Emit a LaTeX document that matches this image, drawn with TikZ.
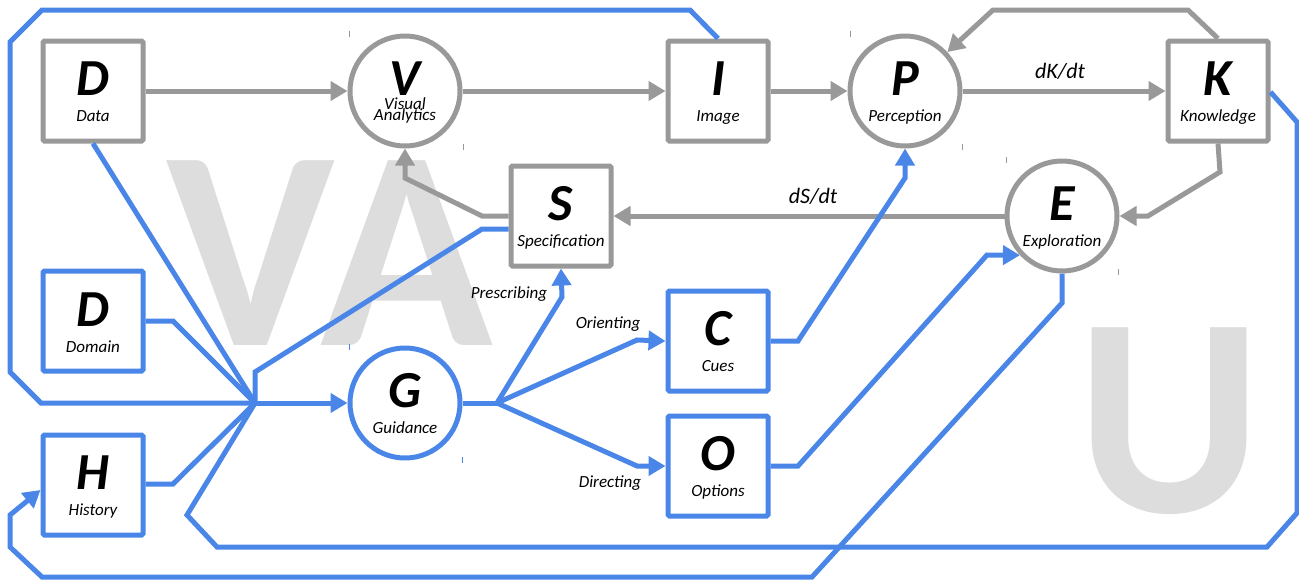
\documentclass[tikz,border=0pt]{standalone}
\usepackage{fontspec}
\setmainfont{Carlito}
\usetikzlibrary{arrows.meta,calc}
\definecolor{gr}{RGB}{153,153,153}
\definecolor{bl}{RGB}{74,134,232}
\definecolor{wm}{RGB}{221,221,221}
\tikzset{
  gbox/.style={draw=gr,line width=5pt,minimum size=100pt,rounded corners=1.5pt,fill=white,inner sep=0pt},
  bbox/.style={gbox,draw=bl},
  gcirc/.style={draw=gr,line width=5pt,circle,minimum size=110pt,fill=white,inner sep=0pt},
  bcirc/.style={gcirc,draw=bl},
  bigtxt/.style={font=\fontsize{52}{52}\selectfont\bfseries\itshape,anchor=base,inner sep=0pt},
  captxt/.style={font=\fontsize{17}{17}\selectfont\itshape,anchor=base,inner sep=0pt},
  ratetxt/.style={font=\fontsize{22}{22}\selectfont\itshape,anchor=base,inner sep=0pt},
  gline/.style={draw=gr,line width=5pt},
  bline/.style={draw=bl,line width=5pt},
  garrow/.style={gline,-{Triangle[length=17pt,width=19pt]}},
  barrow/.style={bline,-{Triangle[length=17pt,width=19pt]}},
  wmark/.style={font=\fontsize{285}{285}\selectfont\bfseries,text=wm,anchor=base,inner sep=0pt},
  tickmk/.style={line width=1pt}
}
\begin{document}
\begin{tikzpicture}[x=1pt,y=-1pt]
\useasboundingbox (0,0) rectangle (1299,579);
\fill[white] (0,0) rectangle (1299,579);
% watermark letters
\node[wmark] (wVA) at (330,345) {VA};
\node[wmark] (wU) at (1170,512) {U};
% nodes
\node[gbox] (D) at (93,91) {};
\node[gcirc] (V) at (405,91) {};
\node[gbox] (I) at (718,91) {};
\node[gcirc] (P) at (905,91) {};
\node[gbox] (K) at (1218,91) {};
\node[gbox] (S) at (561,216) {};
\node[gcirc] (E) at (1062,216) {};
\node[bbox] (Dm) at (93,321) {};
\node[bbox] (H) at (93,485) {};
\node[bcirc] (G) at (405,403) {};
\node[bbox] (C) at (718,341) {};
\node[bbox] (O) at (718,466) {};
% node texts
\node[bigtxt] (Dt) at (93,95) {D};   \node[captxt] (Dc) at (93,121) {Data};
\node[bigtxt] (Vt) at (405,95) {V};  \node[captxt] (Vc1) at (405,109) {Visual};
\node[captxt] (Vc2) at (405,120) {Analytics};
\node[bigtxt] (It) at (718,95) {I};  \node[captxt] (Ic) at (718,121) {Image};
\node[bigtxt] (Pt) at (905,95) {P};  \node[captxt] (Pc) at (905,121) {Perception};
\node[bigtxt] (Kt) at (1218,95) {K}; \node[captxt] (Kc) at (1218,121) {Knowledge};
\node[bigtxt] (St) at (561,220) {S}; \node[captxt] (Sc) at (561,246) {Specification};
\node[bigtxt] (Et) at (1062,220) {E}; \node[captxt] (Ec) at (1062,246) {Exploration};
\node[bigtxt] (Dmt) at (93,326) {D}; \node[captxt] (Dmc) at (93,352) {Domain};
\node[bigtxt] (Ht) at (93,489) {H};  \node[captxt] (Hc) at (93,515) {History};
\node[bigtxt] (Gt) at (405,407) {G}; \node[captxt] (Gc) at (405,433) {Guidance};
\node[bigtxt] (Ct) at (718,345) {C}; \node[captxt] (Cc) at (718,371) {Cues};
\node[bigtxt] (Ot) at (718,470) {O}; \node[captxt] (Oc) at (718,496) {Options};
% labels
\node[ratetxt] (dK) at (1060,78) {dK/dt};
\node[ratetxt] (dS) at (813,203) {dS/dt};
\node[captxt] (lPr) at (509,298) {Prescribing};
\node[captxt] (lOr) at (608,328) {Orienting};
\node[captxt] (lDi) at (610,487) {Directing};
% coordinates
\coordinate (J) at (255,403);
\coordinate (B) at (497,403);
% grey connectors
\draw[garrow] (D) -- (V);
\draw[garrow] (V) -- (I);
\draw[garrow] (I) -- (P);
\draw[garrow] (P) -- (K);
\draw[garrow] (K.north) -- (1188,10) -- (993,10) -- (P);
\draw[garrow] (K.south) -- (1220,172) -- (1148,216) -- (E.east);
\draw[garrow] (E) -- (S);
\draw[garrow] (S.west) -- (482,216) -- (405,178) -- (V.south);
% blue connectors
\draw[bline] (I.north) -- (690,10) -- (42,10) -- (10,42) -- (10,372) -- (41,403) -- (J);
\draw[bline] (D.south) -- (J);
\draw[bline] (Dm.east) -- (173,321) -- (J);
\draw[bline] ($(H.east)+(0,-1)$) -- (173,484) -- (J);
\draw[bline] ($(S.west)+(0,13)$) -- (482,229) -- (255,372) -- (J);
\draw[bline] ($(K.east)+(0,1)$) -- (1297,122) -- (1297,513) -- (1267,547) -- (217,547) -- (187,515) -- (J);
\draw[barrow] (E.south) -- (1062,303) -- (812,577) -- (42,577) -- (10,547) -- (10,515) -- ($(H.west)+(0,5)$);
\draw[barrow] (J) -- (G);
\draw[bline] (G) -- (B);
\draw[barrow] (B) -- (562,297) -- (S.south);
\draw[barrow] (B) -- (637,340) -- (C.west);
\draw[barrow] (B) -- (637,466) -- (O.west);
\draw[barrow] (C.east) -- (798,341) -- (905,178) -- (P.south);
\draw[barrow] (O.east) -- (798,466) -- (987,255) -- (E.223);
% small marks
\draw[tickmk,gr] (349,31) -- (349,37);
\draw[tickmk,gr] (463,144) -- (463,150);
\draw[tickmk,gr] (850,31) -- (850,37);
\draw[tickmk,gr] (962,144) -- (962,150);
\draw[tickmk,gr] (1006,157) -- (1006,163);
\draw[tickmk,gr] (1118,269) -- (1118,275);
\draw[tickmk,bl] (349,344) -- (349,350);
\draw[tickmk,bl] (462,457) -- (462,463);
\end{tikzpicture}
\end{document}
